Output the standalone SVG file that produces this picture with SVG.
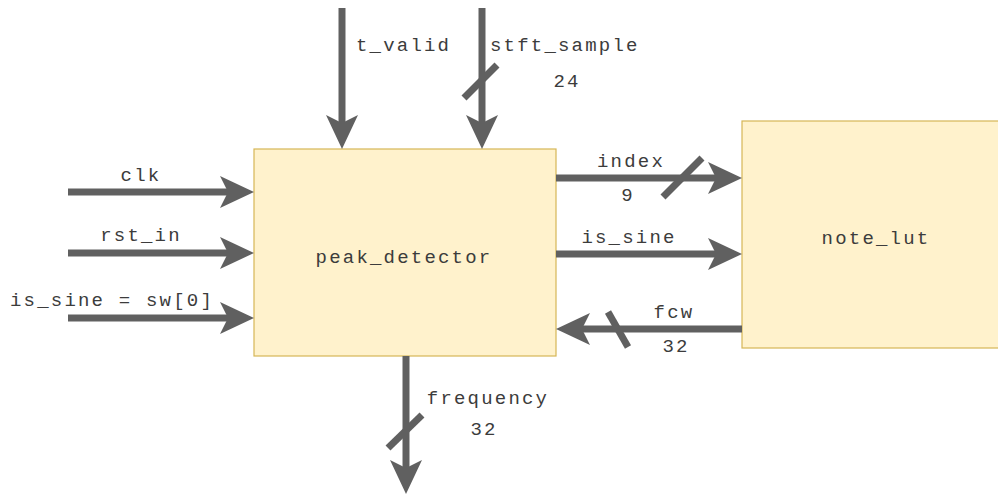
<svg xmlns="http://www.w3.org/2000/svg" width="998" height="496" viewBox="0 0 998 496">
  <style>
    .block { fill: #fff2cc; stroke: #d6b656; stroke-width: 1.2; }
    .wire { stroke: #606060; stroke-width: 7; fill: none; }
    .bus { stroke: #606060; stroke-width: 7; }
    text { font-family: "Liberation Mono", "Courier New", monospace; font-size: 19px; letter-spacing: 2.2px; fill: #3c3c3c; }
    .mid { text-anchor: middle; }
  </style>
  <defs>
    <marker id="head" markerUnits="userSpaceOnUse" viewBox="-10 -18 40 36" markerWidth="40" markerHeight="36" refX="0" refY="0" orient="auto">
      <path d="M26,0 L-8,-16 L0,0 L-8,16 Z" fill="#606060"/>
    </marker>
  </defs>

  <rect width="998" height="496" fill="#ffffff"/>

  <g id="peak_detector">
    <rect class="block" x="254" y="149" width="302" height="207"/>
    <text class="mid" x="404" y="263">peak_detector</text>
  </g>

  <g id="note_lut">
    <rect class="block" x="742" y="121" width="260" height="227"/>
    <text class="mid" x="876" y="244">note_lut</text>
  </g>

  <g id="connectors">
    <!-- top inputs -->
    <line class="wire" x1="342" y1="8" x2="342" y2="123" marker-end="url(#head)"/>
    <line class="wire" x1="482" y1="8" x2="482" y2="123" marker-end="url(#head)"/>
    <line class="bus" x1="464" y1="98" x2="497" y2="65"/>
    <!-- left inputs -->
    <line class="wire" x1="68" y1="192" x2="228" y2="192" marker-end="url(#head)"/>
    <line class="wire" x1="68" y1="253" x2="228" y2="253" marker-end="url(#head)"/>
    <line class="wire" x1="68" y1="318" x2="228" y2="318" marker-end="url(#head)"/>
    <!-- peak_detector to note_lut -->
    <line class="wire" x1="556" y1="178" x2="716" y2="178" marker-end="url(#head)"/>
    <line class="bus" x1="663" y1="197" x2="702" y2="158"/>
    <line class="wire" x1="556" y1="254" x2="716" y2="254" marker-end="url(#head)"/>
    <!-- note_lut back to peak_detector -->
    <line class="wire" x1="742" y1="329" x2="582" y2="329" marker-end="url(#head)"/>
    <line class="bus" x1="608" y1="312" x2="628" y2="347"/>
    <!-- output -->
    <line class="wire" x1="406" y1="356" x2="406" y2="468" marker-end="url(#head)"/>
    <line class="bus" x1="388" y1="448" x2="422" y2="415"/>

    <text x="356" y="51">t_valid</text>
    <text x="490" y="51">stft_sample</text>
    <text class="mid" x="567" y="87">24</text>
    <text class="mid" x="141" y="181">clk</text>
    <text class="mid" x="141" y="241">rst_in</text>
    <text class="mid" x="112" y="306">is_sine = sw[0]</text>
    <text class="mid" x="631" y="167">index</text>
    <text class="mid" x="628" y="201">9</text>
    <text class="mid" x="629" y="243">is_sine</text>
    <text class="mid" x="674" y="318">fcw</text>
    <text class="mid" x="676" y="352">32</text>
    <text class="mid" x="488" y="404">frequency</text>
    <text class="mid" x="484" y="435">32</text>
  </g>
</svg>
